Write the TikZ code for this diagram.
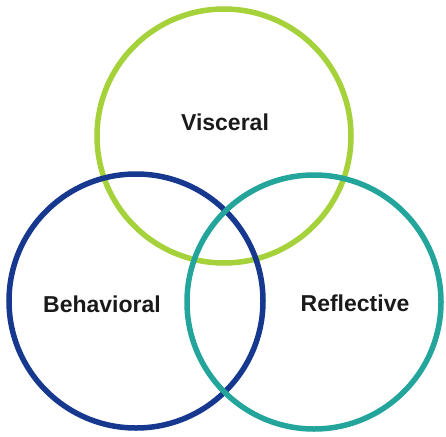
\documentclass[tikz,border=0pt]{standalone}
\usepackage{fontspec}
\setmainfont{Liberation Sans}
\definecolor{vgreen}{HTML}{A5D23A}
\definecolor{bblue}{HTML}{16398F}
\definecolor{rteal}{HTML}{23A59C}
\definecolor{txt}{HTML}{1A1A1A}
\begin{document}
\begin{tikzpicture}[x=1pt,y=-1pt,
  ring/.style={circle,draw,line width=5.5pt,inner sep=0pt,minimum size=254pt},
  lab/.style={font=\fontsize{23}{26}\selectfont\bfseries,text=txt,inner sep=0pt}]
\useasboundingbox (0,0) rectangle (446,436);
\fill[white] (0,0) rectangle (446,436);
\node[ring,draw=vgreen] (visc) at (224,136) {};
\node[ring,draw=bblue] (behav) at (136,301) {};
\node[ring,draw=rteal] (refl) at (314,302) {};
\node[lab] (lv) at (225,122) {Visceral};
\node[lab] (lb) at (102,304) {Behavioral};
\node[lab] (lr) at (355,303) {Reflective};
\end{tikzpicture}
\end{document}
